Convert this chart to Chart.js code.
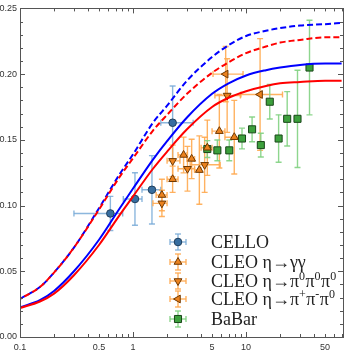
<!DOCTYPE html>
<html>
<head>
<meta charset="utf-8">
<script src="https://cdn.jsdelivr.net/npm/chart.js@4/dist/chart.umd.min.js"></script>
<style>
html, body { margin: 0; padding: 0; background: #fff; }
</style>
</head>
<body>
<canvas id="myChart" width="349" height="354"></canvas>
<script>
// curves
const curveQ2 = [0.1, 0.15, 0.2, 0.3, 0.5, 0.75, 1, 1.5, 2, 3, 5, 7, 10, 15, 20, 30, 50, 70];
const blueDashed = [0.029, 0.038, 0.049, 0.068, 0.098, 0.123, 0.139, 0.163, 0.176, 0.195, 0.213, 0.222, 0.229, 0.233, 0.235, 0.237, 0.238, 0.239];
const redDashed = [0.029, 0.038, 0.049, 0.068, 0.097, 0.121, 0.136, 0.157, 0.169, 0.185, 0.201, 0.209, 0.216, 0.221, 0.224, 0.226, 0.228, 0.228];
const blueSolid = [0.0226, 0.028, 0.035, 0.050, 0.074, 0.097, 0.113, 0.135, 0.149, 0.167, 0.185, 0.193, 0.199, 0.203, 0.205, 0.207, 0.208, 0.208];
const redSolid = [0.022, 0.027, 0.033, 0.047, 0.070, 0.092, 0.107, 0.128, 0.141, 0.158, 0.175, 0.182, 0.187, 0.191, 0.193, 0.194, 0.195, 0.195];

// CELLO
const celloQ2 = [0.63, 1.04, 1.47, 2.24];
const celloF = [0.094, 0.105, 0.112, 0.163];
const celloErr = [0.013, 0.020, 0.026, 0.028];
const celloLo = [0.30, 0.82, 1.20, 1.76];
const celloHi = [0.81, 1.20, 1.76, 3.40];

// CLEO eta -> gamma gamma
const cleoGgQ2 = [1.80, 2.24, 2.80, 3.30, 3.86, 4.54, 5.8, 7.86];
const cleoGgF = [0.108, 0.120, 0.1385, 0.1355, 0.127, 0.144, 0.1566, 0.152];
const cleoGgErr = [0.012, 0.010, 0.0136, 0.015, 0.026, 0.021, 0.028, 0.028];
const cleoGgLo = [1.6, 2.0, 2.5, 3.0, 3.5, 4.0, 5.0, 6.5];
const cleoGgHi = [2.0, 2.5, 3.0, 3.5, 4.0, 5.0, 6.5, 9.0];

// CLEO eta -> 3 pi0
const cleo3p0Q2 = [1.80, 2.24, 3.03, 4.3, 6.8];
const cleo3p0F = [0.1017, 0.134, 0.128, 0.131, 0.1837];
const cleo3p0Err = [0.010, 0.012, 0.017, 0.021, 0.028];
const cleo3p0Lo = [1.5, 2.0, 2.5, 3.2, 5.3];
const cleo3p0Hi = [2.0, 2.6, 3.5, 5.9, 8.9];

// CLEO eta -> pi+ pi- pi0
const cleoPpQ2 = [6.6, 13.3];
const cleoPpF = [0.200, 0.1845];
const cleoPpErr = [0.021, 0.0425];
const cleoPpLo = [5.1, 9.0];
const cleoPpHi = [9.4, 21.0];

// BaBar
const babarQ2 = [4.54, 5.57, 7.1, 9.2, 11.3, 13.5, 16.2, 19.4, 23.1, 28.5, 36.4];
const babarF = [0.143, 0.142, 0.142, 0.151, 0.158, 0.146, 0.179, 0.151, 0.166, 0.166, 0.205];
const babarErr = [0.0064, 0.0079, 0.0079, 0.0079, 0.0094, 0.009, 0.0132, 0.018, 0.0207, 0.037, 0.036];
const babarLo = [4.3, 5.3, 6.7, 8.7, 10.7, 12.8, 15.3, 18.3, 21.9, 27.0, 34.3];
const babarHi = [4.8, 5.9, 7.5, 9.7, 11.9, 14.2, 17.1, 20.5, 24.3, 30.0, 38.5];

const xTickValues = [0.1, 0.5, 1, 5, 10, 50];
const xTickLabels = ['0.1', '0.5', '1', '5', '10', '50'];

const pts = (xs, ys) => xs.map((x, i) => ({x: x, y: ys[i]}));

const blueBar = 'rgba(120, 170, 215, 0.85)';
const orC = 'rgb(235, 130, 30)', orBar = 'rgba(255, 170, 80, 0.9)';
const grC = 'rgb(60, 160, 60)', grBar = 'rgba(130, 210, 130, 0.9)';

const series = [
    {label: 'CELLO', q: celloQ2, f: celloF, e: celloErr, lo: celloLo, hi: celloHi,
     style: 'circle', rot: 0, r: 3.8, fill: 'rgb(55, 110, 160)', border: 'rgb(30, 60, 90)', bar: blueBar},
    {label: 'CLEO η→γγ', q: cleoGgQ2, f: cleoGgF, e: cleoGgErr, lo: cleoGgLo, hi: cleoGgHi,
     style: 'triangle', rot: 0, r: 4.5, fill: orC, border: 'rgb(110, 55, 0)', bar: orBar},
    {label: 'CLEO η→π0π0π0', q: cleo3p0Q2, f: cleo3p0F, e: cleo3p0Err, lo: cleo3p0Lo, hi: cleo3p0Hi,
     style: 'triangle', rot: 180, r: 4.5, fill: orC, border: 'rgb(110, 55, 0)', bar: orBar},
    {label: 'CLEO η→π+π-π0', q: cleoPpQ2, f: cleoPpF, e: cleoPpErr, lo: cleoPpLo, hi: cleoPpHi,
     style: 'triangle', rot: 270, r: 4.5, fill: orC, border: 'rgb(110, 55, 0)', bar: orBar},
    {label: 'BaBar', q: babarQ2, f: babarF, e: babarErr, lo: babarLo, hi: babarHi,
     style: 'rect', rot: 0, r: 5, fill: grC, border: 'rgb(25, 70, 25)', bar: grBar},
];

// legend text pieces: [text, isSuperscript]
const legendText = [
    [['CELLO', false]],
    [['CLEO η→γγ', false]],
    [['CLEO η→π', false], ['0', true], ['π', false], ['0', true], ['π', false], ['0', true]],
    [['CLEO η→π', false], ['+', true], ['π', false], ['-', true], ['π', false], ['0', true]],
    [['BaBar', false]],
];

function drawBar(ctx, x1, y1, x2, y2) {
    ctx.beginPath();
    ctx.moveTo(x1, y1);
    ctx.lineTo(x2, y2);
    ctx.stroke();
}

function drawCross(ctx, cx, cy, xl, xr, yt, yb, cap) {
    drawBar(ctx, xl, cy, xr, cy);
    drawBar(ctx, xl, cy - cap, xl, cy + cap);
    drawBar(ctx, xr, cy - cap, xr, cy + cap);
    drawBar(ctx, cx, yt, cx, yb);
    drawBar(ctx, cx - cap, yt, cx + cap, yt);
    drawBar(ctx, cx - cap, yb, cx + cap, yb);
}

const errorBars = {
    id: 'errorBars',
    beforeDatasetsDraw(chart) {
        const ctx = chart.ctx, xs = chart.scales.x, ys = chart.scales.y, a = chart.chartArea;
        ctx.save();
        ctx.beginPath();
        ctx.rect(a.left, a.top, a.right - a.left, a.bottom - a.top);
        ctx.clip();
        ctx.lineWidth = 1.4;
        series.forEach(s => {
            ctx.strokeStyle = s.bar;
            s.q.forEach((q, i) => {
                const cx = xs.getPixelForValue(q), cy = ys.getPixelForValue(s.f[i]);
                drawCross(ctx, cx, cy,
                    xs.getPixelForValue(s.lo[i]), xs.getPixelForValue(s.hi[i]),
                    ys.getPixelForValue(s.f[i] + s.e[i]), ys.getPixelForValue(s.f[i] - s.e[i]), 3);
            });
        });
        ctx.restore();
    }
};

const frameAndLegend = {
    id: 'frameAndLegend',
    afterDraw(chart) {
        const ctx = chart.ctx, xs = chart.scales.x, ys = chart.scales.y, a = chart.chartArea;
        ctx.save();
        ctx.strokeStyle = '#555';
        ctx.lineWidth = 1;
        ctx.strokeRect(Math.round(a.left) + 0.5, Math.round(a.top) + 0.5,
            Math.round(a.right - a.left), Math.round(a.bottom - a.top));
        // x ticks, inward, top and bottom
        for (let d = 0.1; d < 100; d *= 10) {
            for (let m = 1; m < 10; m++) {
                const v = d * m;
                if (v < 0.1 || v > 72) continue;
                const px = Math.round(xs.getPixelForValue(v)) + 0.5;
                const len = m === 1 ? 5 : 3;
                drawBar(ctx, px, a.bottom, px, a.bottom - len);
                drawBar(ctx, px, a.top, px, a.top + len);
            }
        }
        // y ticks
        for (let k = 0; k <= 25; k++) {
            const py = Math.round(ys.getPixelForValue(k * 0.01)) + 0.5;
            const len = k % 5 === 0 ? 5 : 3;
            drawBar(ctx, a.left, py, a.left + len, py);
            drawBar(ctx, a.right, py, a.right - len, py);
        }

        // legend
        const rows = [242, 262, 281, 299, 319];
        const mx = 178, tx = 211;
        series.forEach((s, i) => {
            const cy = rows[i];
            ctx.strokeStyle = s.bar;
            ctx.lineWidth = 1.4;
            drawCross(ctx, mx, cy, mx - 8, mx + 8, cy - 8, cy + 8, 3);
            ctx.fillStyle = s.fill;
            ctx.strokeStyle = s.border;
            ctx.lineWidth = 1;
            Chart.helpers.drawPoint(ctx, {pointStyle: s.style, radius: s.r, rotation: s.rot, borderWidth: 1}, mx, cy);
            let x = tx;
            ctx.fillStyle = '#222';
            ctx.textBaseline = 'alphabetic';
            ctx.textAlign = 'left';
            legendText[i].forEach(([t, sup]) => {
                ctx.font = sup ? '12px "Liberation Serif"' : '18px "Liberation Serif"';
                ctx.fillText(t, x, sup ? cy - 1 : cy + 6);
                x += ctx.measureText(t).width + (sup ? 0.5 : 0);
            });
        });
        ctx.restore();
    }
};

const datasets = [
    {type: 'line', data: pts(curveQ2, redSolid), borderColor: 'rgb(255, 0, 0)', borderWidth: 2, pointRadius: 0, cubicInterpolationMode: 'monotone', fill: false},
    {type: 'line', data: pts(curveQ2, blueSolid), borderColor: 'rgb(0, 0, 255)', borderWidth: 2, pointRadius: 0, cubicInterpolationMode: 'monotone', fill: false},
    {type: 'line', data: pts(curveQ2, redDashed), borderColor: 'rgb(255, 0, 0)', borderWidth: 2, borderDash: [6, 3], borderDashOffset: 4, pointRadius: 0, cubicInterpolationMode: 'monotone', fill: false},
    {type: 'line', data: pts(curveQ2, blueDashed), borderColor: 'rgb(0, 0, 255)', borderWidth: 2, borderDash: [6, 3], pointRadius: 0, cubicInterpolationMode: 'monotone', fill: false},
];
series.forEach(s => {
    datasets.push({
        type: 'scatter',
        label: s.label,
        data: pts(s.q, s.f),
        pointStyle: s.style,
        rotation: s.rot,
        pointRadius: s.r,
        backgroundColor: s.fill,
        borderColor: s.border,
        borderWidth: 1,
        showLine: false,
    });
});

const config = {
    data: {datasets: datasets},
    options: {
        responsive: false,
        animation: false,
        devicePixelRatio: 1,
        layout: {padding: {left: 0, right: 3, top: 5, bottom: 0}},
        plugins: {legend: {display: false}, tooltip: {enabled: false}},
        scales: {
            x: {
                type: 'logarithmic',
                min: 0.1,
                max: 72,
                grid: {display: false, drawTicks: false},
                border: {display: false},
                afterBuildTicks: (scale) => { scale.ticks = xTickValues.map(v => ({value: v})); },
                afterFit: (scale) => { scale.height = 17; },
                ticks: {
                    autoSkip: false,
                    maxRotation: 0,
                    padding: 5,
                    color: '#333',
                    font: {family: 'Liberation Sans', size: 9},
                    callback: (v) => xTickLabels[xTickValues.indexOf(v)] ?? '',
                },
            },
            y: {
                type: 'linear',
                min: 0,
                max: 0.25,
                grid: {display: false, drawTicks: false},
                border: {display: false},
                afterFit: (scale) => { scale.width = 20; },
                ticks: {
                    stepSize: 0.05,
                    padding: 3,
                    color: '#333',
                    font: {family: 'Liberation Sans', size: 9},
                    callback: (v) => v.toFixed(2),
                },
            },
        },
    },
    plugins: [errorBars, frameAndLegend],
};

const myChart = new Chart(document.getElementById('myChart'), config);
</script>
</body>
</html>
